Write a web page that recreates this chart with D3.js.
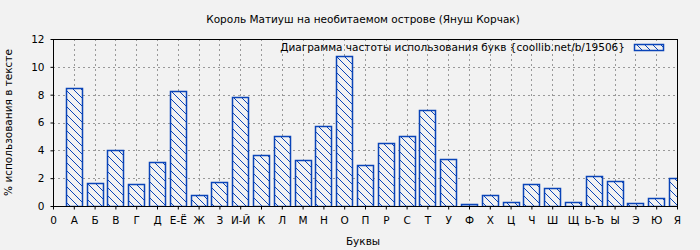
<!DOCTYPE html>
<html>
<head>
<meta charset="utf-8">
<script src="https://cdn.jsdelivr.net/npm/d3@7"></script>
<style>
  body { margin: 0; background: #f2f2f2; }
  svg { display: block; font-family: "DejaVu Sans", sans-serif; }
</style>
</head>
<body>
<svg id="chart" width="700" height="250"></svg>
<script>
// letters on the x axis (the first tick is "0")
const letters = ["А", "Б", "В", "Г", "Д", "Е-Ё", "Ж", "З", "И-Й", "К", "Л", "М", "Н", "О", "П",
    "Р", "С", "Т", "У", "Ф", "Х", "Ц", "Ч", "Ш", "Щ", "Ь-Ъ", "Ы", "Э", "Ю", "Я"];
// % of usage in the text
const percents = [8.46, 1.63, 4.0, 1.56, 3.14, 8.26, 0.77, 1.70, 7.83, 3.64, 5.0, 3.28, 5.77, 10.75, 2.92,
    4.50, 5.0, 6.9, 3.35, 0.12, 0.77, 0.26, 1.56, 1.27, 0.26, 2.13, 1.77, 0.19, 0.55, 1.99];
const yTicks = [0, 2, 4, 6, 8, 10, 12];
const xTicks = ["0"].concat(letters);

const title = "Король Матиуш на необитаемом острове (Януш Корчак)";
const legendText = "Диаграмма частоты использования букв {coollib.net/b/19506}";

const svg = d3.select("#chart");
const plotL = 53, plotR = 678, plotT = 39, plotB = 206;
const blue = "#0a44b8";
const fs = 10.5;

const x = d3.scalePoint().domain(xTicks).range([plotL, plotR - 1]);
const y = d3.scaleLinear().domain([0, 12]).range([plotB, plotT]);

const defs = svg.append("defs");
const pat = defs.append("pattern")
    .attr("id", "hatch")
    .attr("patternUnits", "userSpaceOnUse")
    .attr("width", 8).attr("height", 8);
pat.append("rect").attr("width", 8).attr("height", 8).attr("fill", "#f2f2f2");
pat.append("path")
    .attr("d", "M0,0 L8,8 M-4,4 L4,12 M4,-4 L12,4")
    .attr("stroke", blue).attr("stroke-width", 1).attr("shape-rendering", "crispEdges");

defs.append("clipPath").attr("id", "plotclip")
    .append("rect").attr("x", plotL).attr("y", plotT).attr("width", plotR - plotL).attr("height", plotB - plotT);

// title
svg.append("text")
    .attr("x", 363).attr("y", 23)
    .attr("text-anchor", "middle")
    .attr("font-size", fs)
    .text(title);

// grid
const grid = svg.append("g")
    .attr("stroke", "#999").attr("stroke-dasharray", "2,3").attr("stroke-width", 1);
grid.selectAll("line.h").data(yTicks.slice(1, -1)).enter().append("line")
    .attr("x1", plotL).attr("x2", plotR)
    .attr("y1", d => Math.round(y(d)) + 0.5).attr("y2", d => Math.round(y(d)) + 0.5);
grid.selectAll("line.v").data(xTicks.slice(1)).enter().append("line")
    .attr("x1", d => Math.round(x(d)) + 0.5).attr("x2", d => Math.round(x(d)) + 0.5)
    .attr("y1", plotT).attr("y2", plotB);

// bars
const barW = 16;
svg.append("g").attr("clip-path", "url(#plotclip)")
    .selectAll("rect").data(letters).enter().append("rect")
    .attr("x", (d) => Math.round(x(d) - barW / 2) + 0.5)
    .attr("y", (d, i) => Math.round(y(percents[i])) + 0.5)
    .attr("width", barW)
    .attr("height", (d, i) => plotB - Math.round(y(percents[i])))
    .attr("fill", "url(#hatch)")
    .attr("stroke", blue).attr("stroke-width", 1.5);

// frame
svg.append("rect")
    .attr("x", plotL + 0.5).attr("y", plotT + 0.5)
    .attr("width", plotR - plotL - 1).attr("height", plotB - plotT)
    .attr("fill", "none").attr("stroke", "#000");

// axes
const yAxis = svg.append("g")
    .attr("transform", `translate(${plotL + 0.5},0)`)
    .call(d3.axisLeft(y).tickValues(yTicks).tickSize(3).tickPadding(6));
const xAxis = svg.append("g")
    .attr("transform", `translate(0,${plotB + 0.5})`)
    .call(d3.axisBottom(x).tickSize(3).tickPadding(7));
[yAxis, xAxis].forEach(a => {
    a.select(".domain").remove();
    a.selectAll("text").attr("font-size", fs).attr("font-family", "DejaVu Sans, sans-serif").attr("fill", "#000");
    a.selectAll("line").attr("stroke", "#000");
});

// axis titles
svg.append("text")
    .attr("x", 363).attr("y", 245)
    .attr("text-anchor", "middle").attr("font-size", fs)
    .text("Буквы");
svg.append("text")
    .attr("transform", `translate(12,${(plotT + plotB) / 2}) rotate(-90)`)
    .attr("text-anchor", "middle").attr("font-size", fs)
    .text("% использования в тексте");

// legend
svg.append("text")
    .attr("x", 625).attr("y", 51)
    .attr("text-anchor", "end").attr("font-size", fs)
    .text(legendText);
svg.append("rect")
    .attr("x", 634.5).attr("y", 44.5).attr("width", 29).attr("height", 6)
    .attr("fill", "url(#hatch)").attr("stroke", blue).attr("stroke-width", 1.5);
</script>
</body>
</html>
